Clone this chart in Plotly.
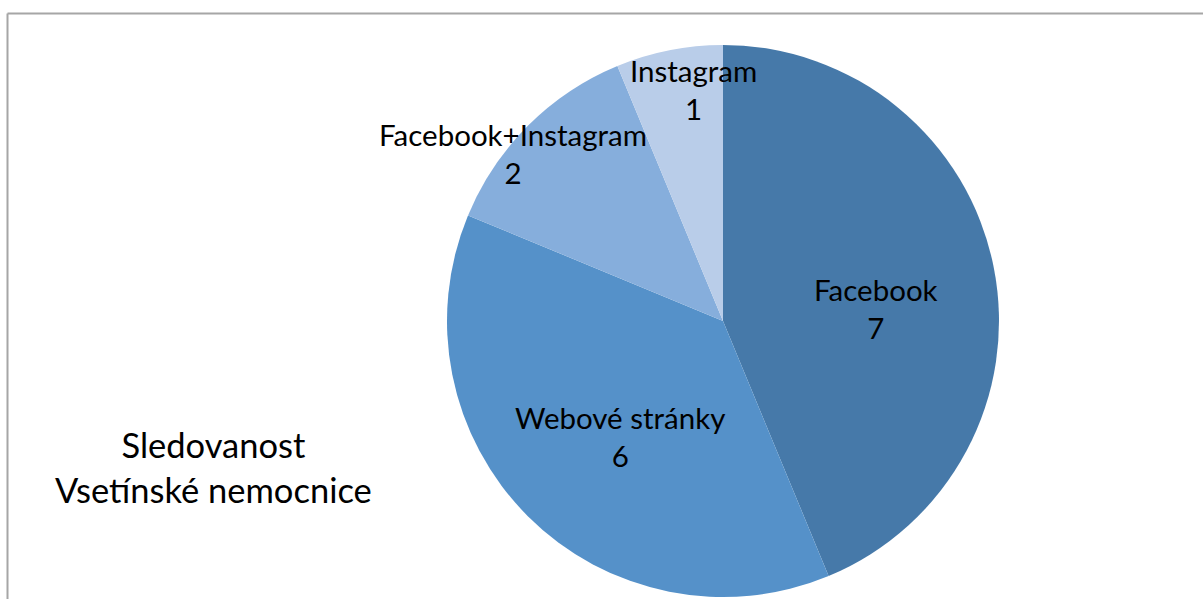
import math
import plotly.graph_objects as go

labels = ["Facebook", "Webové stránky", "Facebook+Instagram", "Instagram"]
values = [7, 6, 2, 1]
colors = ["#4679A9", "#5591C9", "#86AEDC", "#B9CDE9"]
label_radius = [0.556, 0.559, 0.972, 0.846]   # fraction of pie radius for label placement
label_angle_shift = [6.4, -3.2, -6.5, 3.9]    # degrees off the slice mid-angle (label nudging)
title_text = "Sledovanost<br>Vsetínské nemocnice"

W, H = 1203, 599
cx, cy, R = 723, 321, 276  # pie center/radius in px
dom_x = [(cx - R) / W, (cx + R) / W]
dom_y = [1 - (cy + R) / H, 1 - (cy - R) / H]

fig = go.Figure(go.Pie(
    labels=labels, values=values, sort=False, direction="clockwise", rotation=0,
    marker=dict(colors=colors, line=dict(width=0)),
    textinfo="none", hoverinfo="label+value", showlegend=False,
    domain=dict(x=dom_x, y=dom_y),
))

total = sum(values)
cum = 0
annotations = []
for lab, v, rf, da in zip(labels, values, label_radius, label_angle_shift):
    mid = (cum + v / 2) / total * 2 * math.pi + math.radians(da)
    cum += v
    px = cx + rf * R * math.sin(mid)
    py = cy - rf * R * math.cos(mid)
    annotations.append(dict(
        x=px / W, y=1 - py / H, xref="paper", yref="paper",
        text=f"{lab}<br>{v}", showarrow=False, xanchor="center", yanchor="middle",
        font=dict(family="Lato", size=29.5, color="black"), align="center",
    ))

annotations.append(dict(
    x=213 / W, y=1 - 467 / H, xref="paper", yref="paper", text=title_text,
    showarrow=False, xanchor="center", yanchor="middle", align="center",
    font=dict(family="Lato", size=34.5, color="black"),
))

fig.update_layout(
    width=W, height=H, margin=dict(l=0, r=0, t=0, b=0),
    paper_bgcolor="white", plot_bgcolor="white",
    annotations=annotations,
    shapes=[
        dict(type="line", xref="paper", yref="paper", x0=7.5 / W, x1=1.02, y0=1 - 13.5 / H, y1=1 - 13.5 / H,
             line=dict(color="#A6A6A6", width=2)),
        dict(type="line", xref="paper", yref="paper", x0=7.5 / W, x1=7.5 / W, y0=1 - 13.5 / H, y1=-0.02,
             line=dict(color="#A6A6A6", width=2)),
    ],
)

fig.write_html("out.html")
